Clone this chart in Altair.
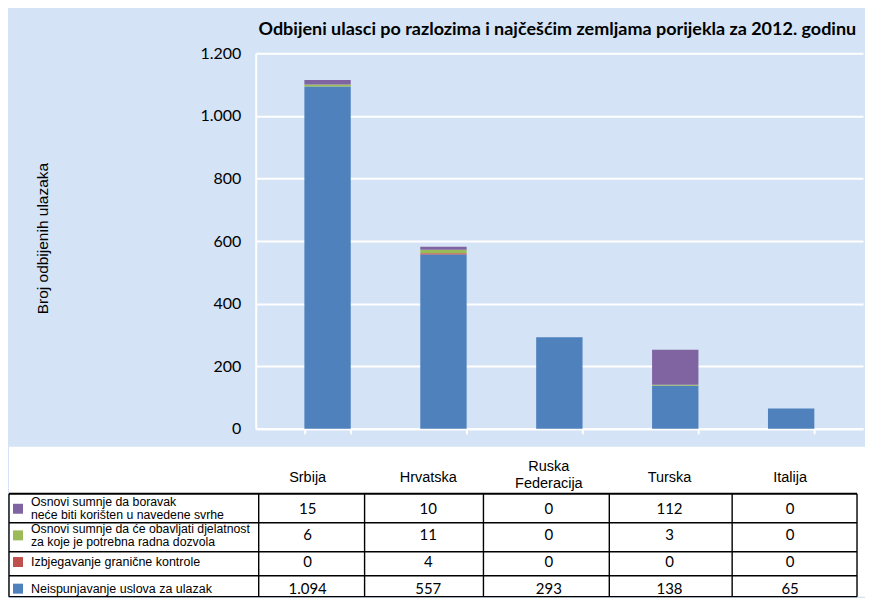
import altair as alt
import pandas as pd

# ---------------- data ----------------
categories = ["Srbija", "Hrvatska", "Ruska Federacija", "Turska", "Italija"]
series = [
    "Neispunjavanje uslova za ulazak",
    "Izbjegavanje granične kontrole",
    "Osnovi sumnje da će obavljati djelatnost\nza koje je potrebna radna dozvola",
    "Osnovi sumnje da boravak\nneće biti korišten u navedene svrhe",
]
neispunjavanje = [1094, 557, 293, 138, 65]
izbjegavanje = [0, 4, 0, 0, 0]
djelatnost = [6, 11, 0, 3, 0]
boravak = [15, 10, 0, 112, 0]
colors = ["#4f81bd", "#c0504d", "#9bbb59", "#8064a2"]
y_ticks = [0, 200, 400, 600, 800, 1000, 1200]
title_text = "Odbijeni ulasci po razlozima i najčešćim zemljama porijekla za 2012. godinu"
y_title = "Broj odbijenih ulazaka"

rows = []
for si, (s, vals) in enumerate(zip(series, [neispunjavanje, izbjegavanje, djelatnost, boravak])):
    for c, v in zip(categories, vals):
        rows.append({"country": c, "series": s, "value": v, "order": si})
df = pd.DataFrame(rows)
table_order = list(reversed(series))
one = pd.DataFrame({"k": [0]})

cat_single = [c for c in categories if " " not in c]
cat_multi = [c for c in categories if " " in c]
ser_single = [s for s in series if "\n" not in s]
ser_multi = [s for s in series if "\n" in s]

BG = "#d4e3f5"
color_scale = alt.Scale(domain=series, range=colors)

# ---------------- top chart ----------------
W, H = 608, 376

frame = alt.Chart(one).mark_rect(fill=BG, fillOpacity=0, strokeOpacity=0).encode(
    x=alt.value(-247), x2=alt.value(610), y=alt.value(-45), y2=alt.value(394)
)

bars = alt.Chart(df).mark_bar().encode(
    x=alt.X(
        "country:N",
        sort=categories,
        scale=alt.Scale(paddingInner=0.6, paddingOuter=0.42),
        axis=alt.Axis(
            title=None, labels=False, grid=False,
            domainColor="white", domainWidth=2,
            tickColor="white", tickWidth=2, tickSize=5, tickBand="extent",
        ),
    ),
    y=alt.Y(
        "value:Q",
        stack="zero",
        scale=alt.Scale(domain=[0, 1200], nice=False),
        axis=alt.Axis(
            values=y_ticks, format=",d",
            title=y_title, titleX=-213, titleY=185, titleAngle=-90,
            titleAlign="center", titleBaseline="middle",
            titleFont="Liberation Sans", titleFontSize=15.5, titleFontWeight="normal",
            titleColor="black",
            labelFont="Lato", labelFontSize=16, labelColor="black", labelPadding=15,
            ticks=False, domainColor="white", domainWidth=2,
            gridColor="white", gridWidth=2, gridOpacity=1,
        ),
    ),
    color=alt.Color("series:N", scale=color_scale, legend=None),
    order=alt.Order("order:Q"),
)

title = alt.Chart(pd.DataFrame({"t": [title_text]})).mark_text(
    font="Lato", fontSize=18, fontWeight="bold", align="center", baseline="middle", color="black"
).encode(x=alt.value(302), y=alt.value(-23), text="t:N")

top = alt.layer(frame, bars, title).properties(width=W, height=H)

# ---------------- table chart ----------------
x_tab = alt.X("country:N",
              scale=alt.Scale(type="point", domain=categories, range=[52, 535], padding=0),
              axis=None)
y_tab = alt.Y("series:N",
              scale=alt.Scale(type="point", domain=table_order, range=[62, 142], padding=0),
              axis=None)

white = alt.Chart(one).mark_rect(fill="white").encode(
    x=alt.value(-247), x2=alt.value(610), y=alt.value(0), y2=alt.value(150)
)

layers = [white]
for yv, w in [(47, 2), (76, 1.4), (105, 1.4), (129, 1.4), (150, 1.4)]:
    layers.append(alt.Chart(one).mark_rule(color="black", strokeWidth=w).encode(
        x=alt.value(-247), x2=alt.value(602), y=alt.value(yv)))
for xv in [-247, 3, 109, 228, 354, 477, 602]:
    layers.append(alt.Chart(one).mark_rule(color="black", strokeWidth=1.4).encode(
        x=alt.value(xv), y=alt.value(47), y2=alt.value(150)))

header_df = pd.DataFrame({"country": categories})
header_one = alt.Chart(header_df).transform_filter(
    alt.FieldOneOfPredicate(field="country", oneOf=cat_single)
).mark_text(
    font="Liberation Sans", fontSize=14.5, color="black", align="center", baseline="middle"
).encode(x=x_tab, y=alt.value(31), text="country:N")
header_two = alt.Chart(header_df).transform_filter(
    alt.FieldOneOfPredicate(field="country", oneOf=cat_multi)
).mark_text(
    font="Liberation Sans", fontSize=14.5, color="black", lineBreak=" ", lineHeight=17,
    align="center", baseline="middle", dy=-11
).encode(x=x_tab, y=alt.value(31), text="country:N")

numbers = alt.Chart(df).mark_text(
    font="Lato", fontSize=15, color="black", align="center", baseline="middle"
).encode(x=x_tab, y=y_tab, text=alt.Text("value:Q", format=",d"))

legend_df = pd.DataFrame({"series": series})
swatches = alt.Chart(legend_df).mark_square(size=100, opacity=1).encode(
    x=alt.value(-238), y=y_tab, color=alt.Color("series:N", scale=color_scale, legend=None)
)
labels_one = alt.Chart(legend_df).transform_filter(
    alt.FieldOneOfPredicate(field="series", oneOf=ser_single)
).mark_text(
    font="Liberation Sans", fontSize=12.5, color="black", align="left", baseline="middle"
).encode(x=alt.value(-225), y=y_tab, text="series:N")
labels_two = alt.Chart(legend_df).transform_filter(
    alt.FieldOneOfPredicate(field="series", oneOf=ser_multi)
).mark_text(
    font="Liberation Sans", fontSize=12.3, color="black", align="left", baseline="middle",
    lineBreak="\n", lineHeight=13, dy=-6.5
).encode(x=alt.value(-225), y=y_tab, text="series:N")

layers += [header_one, header_two, numbers, swatches, labels_one, labels_two]
table = alt.layer(*layers).properties(width=W, height=150)

chart = (
    alt.vconcat(top, table, spacing=0)
    .resolve_scale(x="independent", y="independent")
    .properties(padding=0)
    .configure(
        background=BG,
        locale={"number": {"decimal": ",", "thousands": ".", "grouping": [3], "currency": ["", ""]}},
    )
    .configure_view(strokeWidth=0)
)

chart.save("out.html", embed_options={"renderer": "svg", "actions": False})
